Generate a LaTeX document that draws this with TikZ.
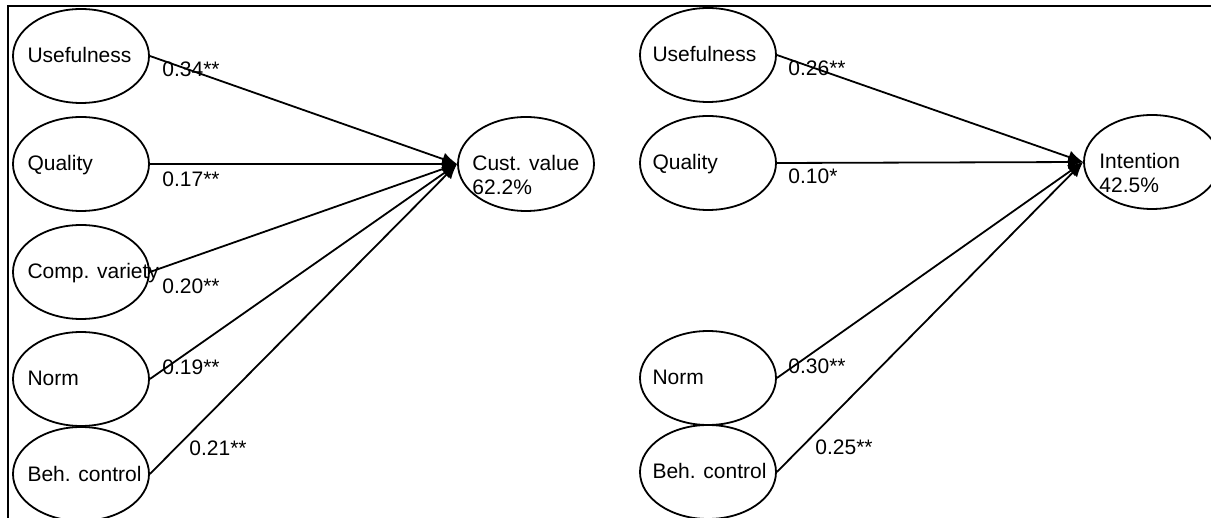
\documentclass[tikz,border=0pt]{standalone}
\usepackage{fontspec}
\setmainfont{Liberation Sans}
\usetikzlibrary{shapes.geometric,arrows.meta}
\tikzset{construct/.style={
  draw, ellipse, line width=0.9pt,
  minimum width=68pt, minimum height=47pt, inner sep=0pt
  }
}
\tikzset{my arrow/.style={
  line width=0.9pt,
  -{Latex[length=7.5pt,width=6.5pt]}
  }
}
\tikzset{coef/.style={anchor=base west, inner sep=0pt}}

\begin{document}
\begin{tikzpicture}[x=0.5pt,y=-0.5pt,font=\fontsize{10.5}{12}\selectfont]
    \useasboundingbox (0,0) rectangle (1211,518);
    \draw[line width=1pt] (8,518) -- (8,6) -- (1211,6);

    % customer value model
    \node[construct] (V) at (526,164) {};
    \node[anchor=west,align=left,inner sep=0pt] (VT) at (472,175) {Cust. value\\62.2\%};

    \foreach \i/\y/\c/\cx/\cy [count=\n] in {Usefulness/56/0.34**/162/77,Quality/164/0.17**/162/187,Comp. variety/272/0.20**/162/294,Norm/379/0.19**/162/375,Beh. control/474/0.21**/189/455}
    {
        \node[construct] (L\n) at (81,\y) {};
        \node[anchor=base west,inner sep=0pt] (LT\n) at ([xshift=7.5pt,yshift=-3.5pt]L\n.west) {\i};
        \draw[my arrow] (L\n.east) -- (V.west);
        \node[coef] (LC\n) at (\cx,\cy) {\c};
    }

    % intention model
    \node[construct] (I) at (1152,162) {};
    \node[anchor=west,align=left,inner sep=0pt] (IT) at (1099,173) {Intention\\42.5\%};

    \foreach \i/\y/\c/\cx/\cy [count=\n] in {Usefulness/55/0.26**/788/76,Quality/163/0.10*/788/184,Norm/378/0.30**/788/374,Beh. control/472/0.25**/815/454}
    {
        \node[construct] (R\n) at (708,\y) {};
        \node[anchor=base west,inner sep=0pt] (RT\n) at ([xshift=6.5pt,yshift=-3.5pt]R\n.west) {\i};
        \draw[my arrow] (R\n.east) -- (I.west);
        \node[coef] (RC\n) at (\cx,\cy) {\c};
    }
\end{tikzpicture}
\end{document}
